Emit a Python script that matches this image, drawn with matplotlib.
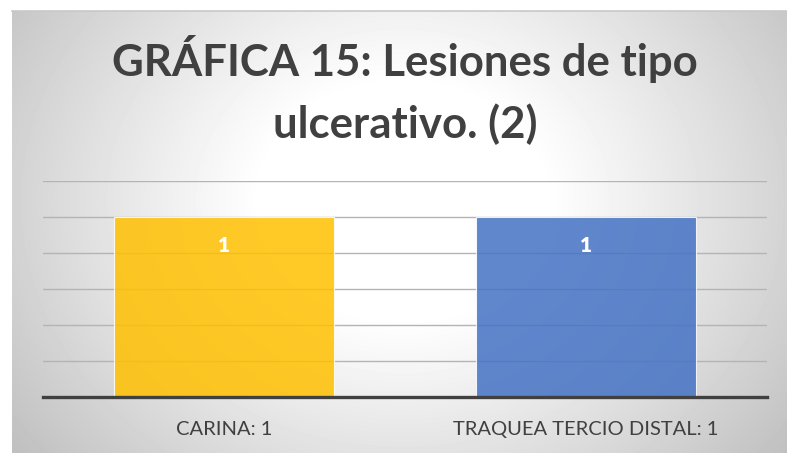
import numpy as np
from matplotlib import pyplot as plt

categories = ["CARINA: 1", "TRAQUEA TERCIO DISTAL: 1"]
values = [1, 1]
bar_colors = ["#FFC000", "#4472C4"]
title_lines = ["GRÁFICA 15: Lesiones de tipo", "ulcerativo. (2)"]

plt.rcParams['font.family'] = ['Lato', 'DejaVu Sans']

fig = plt.figure(figsize=(7.87, 4.53), dpi=100)
fig.patch.set_facecolor("white")

# radial gradient background of the chart area
bg = fig.add_axes([12 / 787, 0, 775 / 787, 442 / 453])
yy, xx = np.mgrid[0:442, 0:775]
d = np.sqrt(((xx - 390) / 470) ** 2 + ((yy - 190) / 390) ** 2)
shade = np.clip(1 - 0.34 * np.clip(d - 0.3, 0, None) ** 1.05, 0.75, 1)
bg.imshow(shade, cmap="gray", vmin=0, vmax=1, aspect="auto",
          extent=[0, 1, 0, 1], interpolation="bilinear")
bg.set_xlim(0, 1)
bg.set_ylim(0, 1)
bg.axis("off")
bg.plot([0, 1], [1, 1], color="#c8c8c8", lw=1.2, transform=bg.transAxes,
        clip_on=False)

ax = fig.add_axes([43 / 787, 56 / 453, 724 / 787, 216 / 453])
ax.patch.set_alpha(0)
x = np.arange(len(categories))
bars = ax.bar(x, values, width=0.605, color=bar_colors, alpha=0.85,
              edgecolor="white", linewidth=0.8, zorder=3)
for b, v in zip(bars, values):
    ax.text(b.get_x() + b.get_width() / 2, v - 0.16, str(v), ha="center",
            va="center", color="white", fontsize=15, fontweight="heavy",
            zorder=4)

ax.set_xlim(-0.5, len(categories) - 0.5)
ax.set_ylim(0, 1.2)
ax.set_yticks(np.arange(0.2, 1.21, 0.2))
ax.yaxis.grid(True, color="#b4b4b4", lw=1, zorder=0)
ax.tick_params(axis="y", left=False, labelleft=False)
ax.tick_params(axis="x", bottom=False, pad=14)
ax.set_xticks(x)
ax.set_xticklabels(categories, fontsize=14.5, color="#404040")
for s in ["top", "right", "left"]:
    ax.spines[s].set_visible(False)
ax.spines["bottom"].set_color("#404040")
ax.spines["bottom"].set_linewidth(2.4)
ax.spines["bottom"].set_zorder(5)

cx = 405 / 787
for line, base in zip(title_lines, [76, 138]):
    fig.text(cx, 1 - base / 453, line, ha="center", va="baseline",
             fontsize=31.5, fontweight="bold", color="#404040")

fig.savefig("out.png", dpi=100)
